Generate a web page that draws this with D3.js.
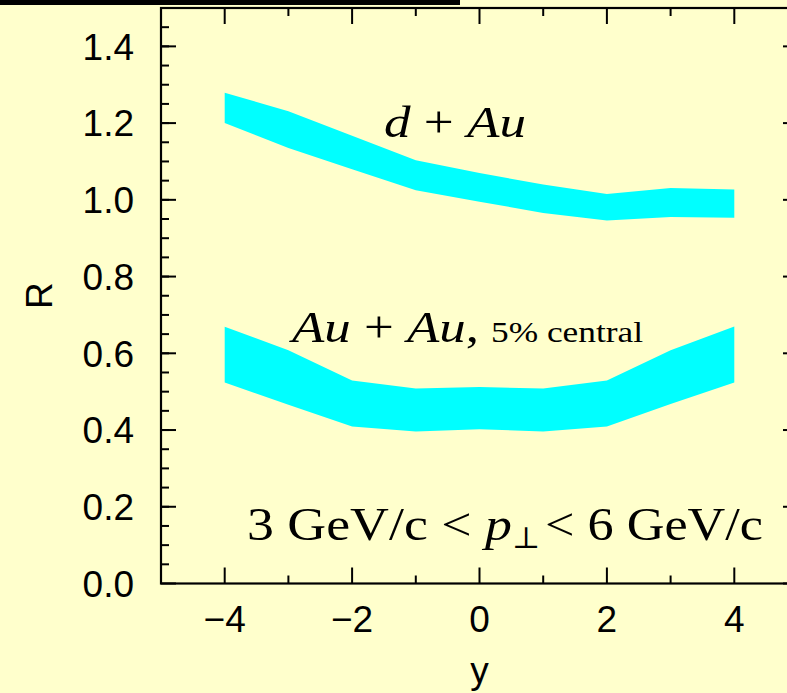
<!DOCTYPE html>
<html>
<head>
<meta charset="utf-8">
<script src="https://cdn.jsdelivr.net/npm/d3@7"></script>
<style>
  html, body { margin: 0; padding: 0; background: #ffffcc; }
  svg { display: block; }
</style>
</head>
<body>
<svg id="chart" width="787" height="693"></svg>
<script>
// band edges, one value per unit of rapidity
const rapidity = [-4, -3, -2, -1, 0, 1, 2, 3, 4];
const dAuUpper = [1.279, 1.231, 1.167, 1.103, 1.070, 1.040, 1.015, 1.031, 1.027];
const dAuLower = [1.200, 1.135, 1.080, 1.025, 0.995, 0.966, 0.946, 0.955, 0.953];
const auAuUpper = [0.669, 0.608, 0.529, 0.508, 0.512, 0.508, 0.529, 0.608, 0.670];
const auAuLower = [0.524, 0.466, 0.409, 0.396, 0.402, 0.396, 0.409, 0.468, 0.524];

const xMajorTicks = [-4, -2, 0, 2, 4];
const xMinorTicks = [-3, -1, 1, 3];
const yMajorTicks = [0, 0.2, 0.4, 0.6, 0.8, 1.0, 1.2, 1.4];

const svg = d3.select('#chart');

const x = d3.scaleLinear().domain([-5, 5]).range([161, 798]);
const y = d3.scaleLinear().domain([0, 1.5]).range([583.5, 8]);

const toRows = (upper, lower) => rapidity.map((r, i) => ({ r, hi: upper[i], lo: lower[i] }));

const band = d3.area()
    .x((d) => x(d.r))
    .y0((d) => y(d.lo))
    .y1((d) => y(d.hi));

// black strip along the top edge
svg.append('rect')
    .attr('x', 0).attr('y', 0)
    .attr('width', 460).attr('height', 5)
    .attr('fill', '#000');

svg.append('g')
    .attr('class', 'bands')
  .selectAll('path')
  .data([toRows(dAuUpper, dAuLower), toRows(auAuUpper, auAuLower)])
  .enter().append('path')
    .attr('d', band)
    .attr('fill', '#00ffff');

// inward ticks on all four sides
const yMinor = y.ticks(30).filter((v) => v > 0 && v < 1.5);
const ticks = svg.append('g')
    .attr('stroke', '#000')
    .attr('stroke-width', 2);

const addY = (vals, len) => {
  vals.forEach((v) => {
    ticks.append('line').attr('x1', x(-5)).attr('x2', x(-5) + len).attr('y1', y(v)).attr('y2', y(v));
    ticks.append('line').attr('x1', x(5)).attr('x2', x(5) - len).attr('y1', y(v)).attr('y2', y(v));
  });
};
const addX = (vals, len) => {
  vals.forEach((v) => {
    ticks.append('line').attr('x1', x(v)).attr('x2', x(v)).attr('y1', y(0)).attr('y2', y(0) - len);
    ticks.append('line').attr('x1', x(v)).attr('x2', x(v)).attr('y1', y(1.5)).attr('y2', y(1.5) + len);
  });
};
addY(yMinor, 8);
addY(yMajorTicks, 15);
addX(xMinorTicks, 8);
addX(xMajorTicks, 16);

svg.append('rect')
    .attr('x', x(-5)).attr('y', y(1.5))
    .attr('width', x(5) - x(-5)).attr('height', y(0) - y(1.5))
    .attr('fill', 'none')
    .attr('stroke', '#000')
    .attr('stroke-width', 2.2);

const sans = '"Liberation Sans", Arial, Helvetica, sans-serif';
const serif = '"Liberation Serif", "Times New Roman", serif';

svg.append('g')
  .selectAll('text')
  .data(yMajorTicks)
  .enter().append('text')
    .attr('x', 134)
    .attr('y', (d) => y(d) + 13.3)
    .attr('text-anchor', 'end')
    .style('font', `37px ${sans}`)
    .text((d) => d.toFixed(1));

svg.append('g')
  .selectAll('text')
  .data(xMajorTicks)
  .enter().append('text')
    .attr('x', (d) => x(d))
    .attr('y', 632)
    .attr('text-anchor', 'middle')
    .style('font', `37px ${sans}`)
    .text((d) => (d < 0 ? '\u2212' + Math.abs(d) : d));

svg.append('text')
    .attr('x', x(0))
    .attr('y', 683)
    .attr('text-anchor', 'middle')
    .style('font', `37px ${sans}`)
    .text('y');

svg.append('text')
    .attr('transform', `translate(52,${(y(0) + y(1.5)) / 2}) rotate(-90)`)
    .attr('text-anchor', 'middle')
    .style('font', `37px ${sans}`)
    .text('R');

// annotations
const dAu = svg.append('text')
    .attr('x', 384).attr('y', 137)
    .attr('textLength', 142).attr('lengthAdjust', 'spacingAndGlyphs')
    .style('font', `45px ${serif}`);
dAu.append('tspan').style('font-style', 'italic').text('d');
dAu.append('tspan').text(' + ');
dAu.append('tspan').style('font-style', 'italic').text('Au');

const auAu = svg.append('text')
    .attr('x', 292).attr('y', 342)
    .attr('textLength', 187).attr('lengthAdjust', 'spacingAndGlyphs')
    .style('font', `45px ${serif}`);
auAu.append('tspan').style('font-style', 'italic').text('Au');
auAu.append('tspan').text(' + ');
auAu.append('tspan').style('font-style', 'italic').text('Au');
auAu.append('tspan').text(',');

svg.append('text')
    .attr('x', 491).attr('y', 342)
    .attr('textLength', 152).attr('lengthAdjust', 'spacingAndGlyphs')
    .style('font', `29px ${serif}`)
    .text('5% central');

const ptLeft = svg.append('text')
    .attr('x', 247).attr('y', 540)
    .attr('textLength', 265).attr('lengthAdjust', 'spacingAndGlyphs')
    .style('font', `46px ${serif}`);
ptLeft.append('tspan').text('3 GeV/c < ');
ptLeft.append('tspan').style('font-style', 'italic').text('p');

svg.append('text')
    .attr('x', 512).attr('y', 548)
    .style('font', `30px "DejaVu Serif", serif`)
    .text('\u22a5');

svg.append('text')
    .attr('x', 545).attr('y', 540)
    .attr('textLength', 218).attr('lengthAdjust', 'spacingAndGlyphs')
    .style('font', `46px ${serif}`)
    .text('< 6 GeV/c');
</script>
</body>
</html>
